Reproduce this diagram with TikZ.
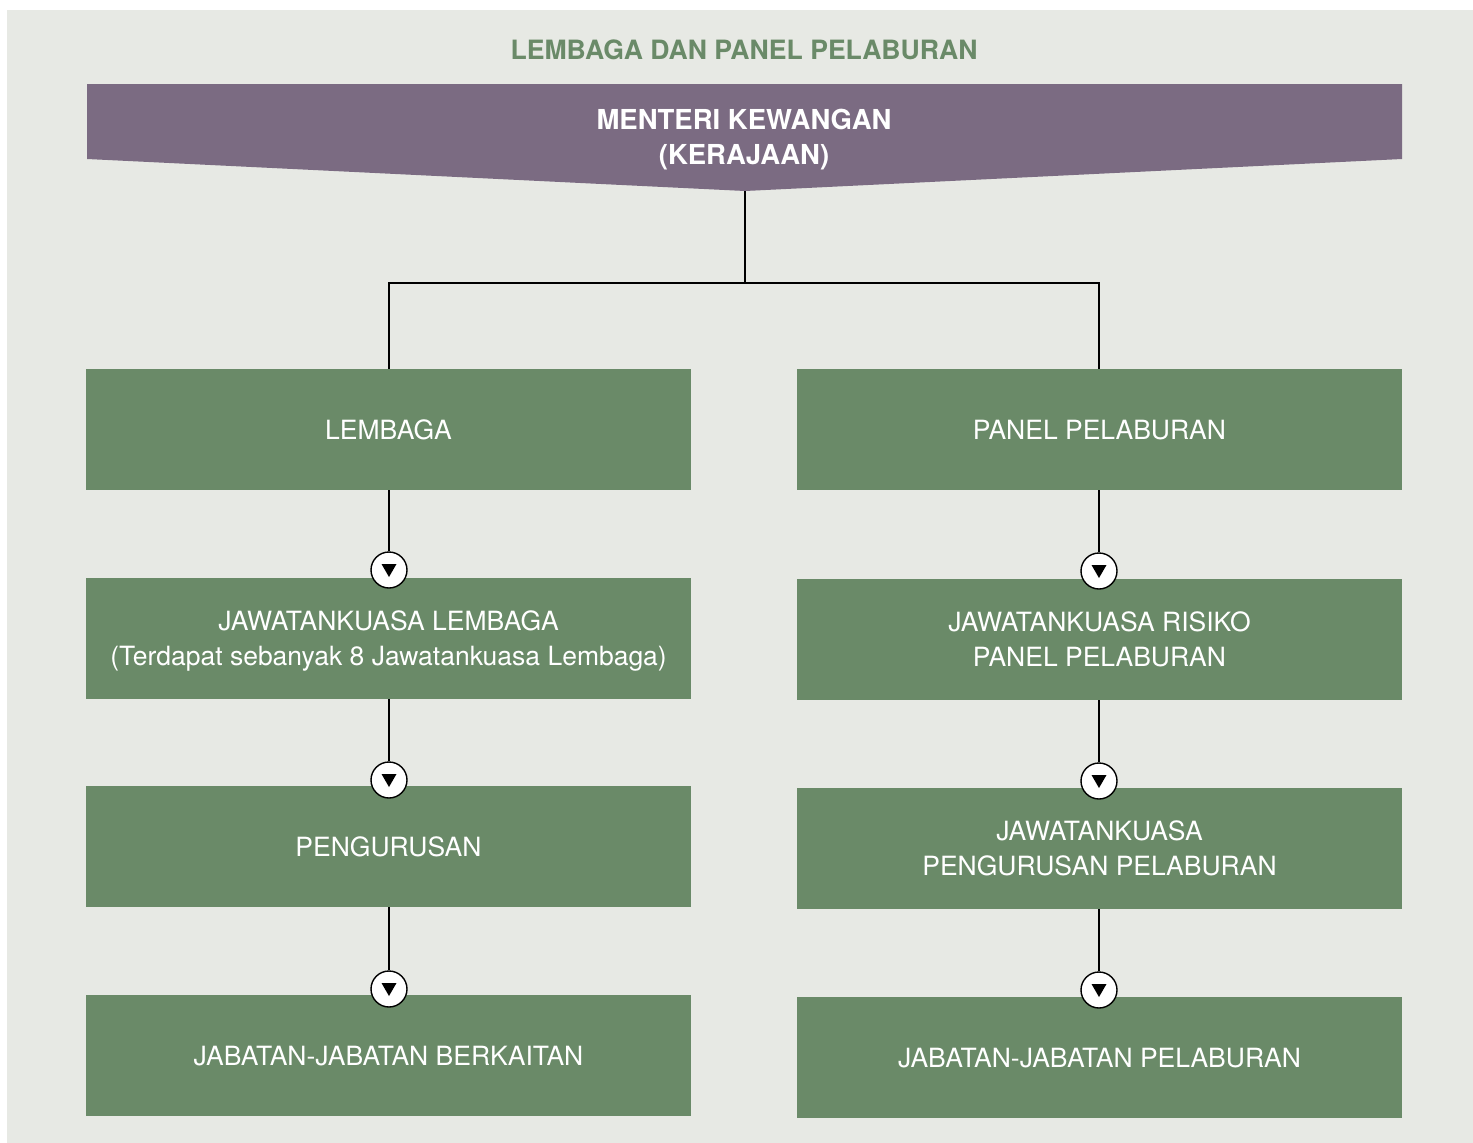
\documentclass[tikz,border=0pt]{standalone}
\usepackage{fontspec}
\setmainfont{TeX Gyre Heros}
\definecolor{bgc}{HTML}{E7E9E4}
\definecolor{boxg}{HTML}{6A8A68}
\definecolor{banp}{HTML}{7B6B82}
\tikzset{
  gbox/.style={fill=boxg, text=white, minimum width=605pt, minimum height=121pt, inner sep=0pt, align=center, text height=19pt, text depth=0pt, font=\fontsize{26.5}{35}\selectfont},
  twoline/.style={text height=54pt, text depth=0pt},
  arrowcirc/.style={circle, draw=black, fill=white, line width=1.4pt, minimum size=36pt, inner sep=0pt,
    path picture={\fill[black] ([shift={(-7.5pt,6pt)}]path picture bounding box.center) -- ++(15pt,0pt) -- ++(-7.5pt,-13pt) -- cycle;}},
  conn/.style={draw=black, line width=1.4pt}
}
\begin{document}
\begin{tikzpicture}[x=1pt,y=-1pt]
\useasboundingbox (0,0) rectangle (1473,1143);
\fill[white] (0,0) rectangle (1473,1143);
\fill[bgc] (7,10) rectangle (1473,1143);
% title
\node[text=boxg, font=\bfseries\fontsize{26.6}{30}\selectfont] (title) at (744,50) {LEMBAGA DAN PANEL PELABURAN};
% banner
\fill[banp] (87,84) -- (1402,84) -- (1402,159) -- (745,191) -- (87,159) -- cycle;
\node[text=white, align=center, font=\bfseries\fontsize{27.5}{35}\selectfont] (min) at (744,140) {MENTERI KEWANGAN\\(KERAJAAN)};
\coordinate (mb) at (745,191);
\coordinate (j) at (745,283);
% boxes
\node[gbox] (lem) at (388.5,429.5) {LEMBAGA};
\node[gbox, twoline] (jl) at (388.5,638.5) {JAWATANKUASA LEMBAGA\\(Terdapat sebanyak 8 Jawatankuasa Lembaga)};
\node[gbox] (pen) at (388.5,846.5) {PENGURUSAN};
\node[gbox] (jb) at (388.5,1055.5) {JABATAN-JABATAN BERKAITAN};
\node[gbox] (pan) at (1099.5,429.5) {PANEL PELABURAN};
\node[gbox, twoline] (jr) at (1099.5,639.5) {JAWATANKUASA RISIKO\\PANEL PELABURAN};
\node[gbox, twoline] (jp) at (1099.5,848.5) {JAWATANKUASA\\PENGURUSAN PELABURAN};
\node[gbox] (jbp) at (1099.5,1057.5) {JABATAN-JABATAN PELABURAN};
% top connectors
\draw[conn] (mb) -- (j);
\draw[conn] (lem.north -| 389,0) |- (j);
\draw[conn] (pan.north -| 1099,0) |- (j);
% circles
\node[arrowcirc] (c1) at (389,570) {};
\node[arrowcirc] (c2) at (389,780) {};
\node[arrowcirc] (c3) at (389,989) {};
\node[arrowcirc] (c4) at (1099,571) {};
\node[arrowcirc] (c5) at (1099,781) {};
\node[arrowcirc] (c6) at (1099,990) {};
\draw[conn] (lem.south -| c1) -- (c1.north);
\draw[conn] (jl.south -| c2) -- (c2.north);
\draw[conn] (pen.south -| c3) -- (c3.north);
\draw[conn] (pan.south -| c4) -- (c4.north);
\draw[conn] (jr.south -| c5) -- (c5.north);
\draw[conn] (jp.south -| c6) -- (c6.north);
\end{tikzpicture}
\end{document}
